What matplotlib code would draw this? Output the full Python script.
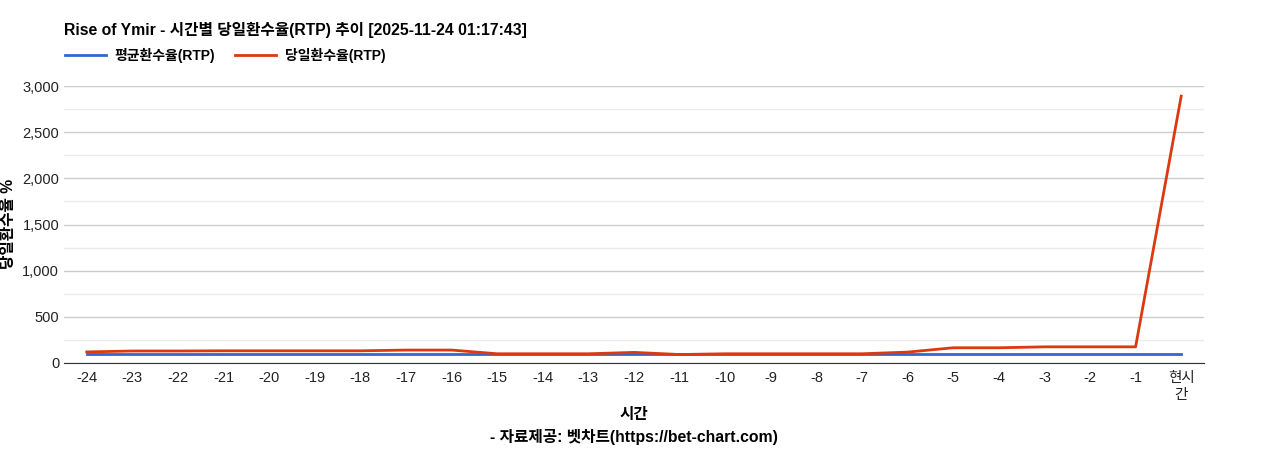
import matplotlib.pyplot as plt
from matplotlib.ticker import MultipleLocator, FuncFormatter

plt.rcParams['font.family'] = ['Liberation Sans', 'Noto Sans CJK KR']

hours = ["-24", "-23", "-22", "-21", "-20", "-19", "-18", "-17", "-16", "-15",
         "-14", "-13", "-12", "-11", "-10", "-9", "-8", "-7", "-6", "-5",
         "-4", "-3", "-2", "-1", "현시\n간"]
avg_rtp = [97] * 25
day_rtp = [120, 130, 130, 132, 132, 132, 132, 140, 140, 100,
           100, 100, 115, 92, 100, 100, 100, 100, 118, 165,
           165, 175, 175, 175, 2890]

fig = plt.figure(figsize=(12.68, 4.5), dpi=100)
ax = fig.add_axes([64 / 1268, 1 - 363 / 450, 1140 / 1268, 277 / 450])

x = range(len(hours))
ax.plot(x, avg_rtp, color="#3366cc", lw=2, label="평균환수율(RTP)")
ax.plot(x, day_rtp, color="#dc3912", lw=2, label="당일환수율(RTP)")

ax.set_xlim(-0.5, len(hours) - 0.5)
ax.set_ylim(0, 3000)
ax.set_xticks(list(x))
ax.set_xticklabels(hours, fontsize=10.5, color="#222222")
ax.yaxis.set_major_locator(MultipleLocator(500))
ax.yaxis.set_minor_locator(MultipleLocator(250))
ax.yaxis.set_major_formatter(FuncFormatter(lambda v, p: f"{int(v):,}"))
ax.tick_params(axis="y", labelsize=10.5, colors="#222222", length=0, which="both")
ax.tick_params(axis="x", length=0, pad=6)
ax.grid(axis="y", which="major", color="#cccccc", lw=1)
ax.grid(axis="y", which="minor", color="#ebebeb", lw=1)
ax.set_axisbelow(True)
for s in ["top", "right", "left"]:
    ax.spines[s].set_visible(False)
ax.spines["bottom"].set_color("#333333")

bold = dict(fontweight="bold", fontsize=11.3)
fig.text(9 / 1268, 1 - 224 / 450, "당일환수율 %", rotation=90, ha="center", va="center", **bold)
fig.text(634 / 1268, 1 - 415 / 450, "시간", ha="center", va="center", **bold)
fig.text(634 / 1268, 1 - 437 / 450, "- 자료제공: 벳차트(https://bet-chart.com)", ha="center", va="center", **bold)
fig.text(64 / 1268, 1 - 30 / 450, "Rise of Ymir - 시간별 당일환수율(RTP) 추이 [2025-11-24 01:17:43]",
         ha="left", va="center", **bold)

fig.legend(loc="center left", bbox_to_anchor=(52 / 1268, 1 - 55 / 450), ncol=2, frameon=False,
           prop={"weight": "bold", "size": 10}, handlelength=3.0, columnspacing=1.4, handletextpad=0.6)

plt.savefig("out.png")
plt.close()
